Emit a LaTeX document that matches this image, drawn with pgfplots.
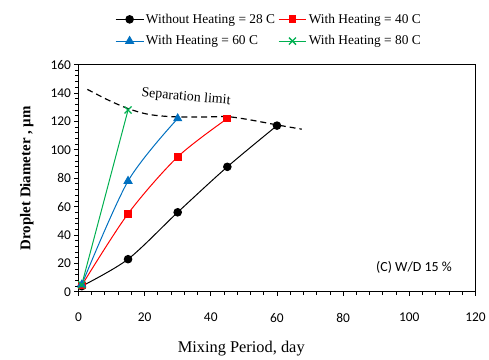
\documentclass[border=0pt]{standalone}
\usepackage{pgfplots}
\pgfplotsset{compat=1.18}
\usepackage{fontspec}
\setmainfont{Liberation Serif}
\newfontfamily\calibri{Carlito}
\definecolor{myred}{RGB}{255,0,0}
\definecolor{myblue}{RGB}{0,112,192}
\definecolor{mygreen}{RGB}{0,176,80}
\begin{document}
\begin{tikzpicture}
\begin{axis}[
  scale only axis, width=400pt, height=229pt,
  xmin=0, xmax=120, ymin=0, ymax=160,
  xtick={0,20,...,120}, ytick={0,20,...,160},
  minor x tick num=4, minor y tick num=4,
  tick align=outside, tick pos=left,
  major tick length=4pt, minor tick length=3pt,
  axis line style={line width=1pt},
  every tick/.style={black, line width=0.8pt},
  tick label style={font=\fontsize{13.5}{15}\selectfont\calibri},
  xticklabel style={yshift=-14pt},
  /pgf/number format/assume math mode=true,
  xlabel={Mixing Period, day},
  xlabel style={font=\fontsize{16.5}{18}\selectfont\rmfamily, at={(axis description cs:0.41,0)}, anchor=center, yshift=-57pt},
  ylabel={\textbf{Droplet Diameter , \textmu m}},
  ylabel style={font=\fontsize{15}{17}\selectfont\rmfamily, at={(axis description cs:-0.13,0.5)}, anchor=center},
  legend columns=2,
  legend style={draw=none, fill=none, at={(axis description cs:0.48,1)}, anchor=south, yshift=14pt,
    font=\fontsize{13.5}{15}\selectfont\rmfamily, row sep=7pt,
    /tikz/every even column/.append style={column sep=1pt}},
  legend cell align=left,
  legend image code/.code={\draw[#1] (0pt,0pt) -- (28pt,0pt); \draw[#1] plot coordinates {(14pt,0pt)};},
]
\addplot[black, line width=1pt, smooth, mark=*, mark size=3.8pt, mark options={solid}] coordinates {(1,4) (15,23) (30,56) (45,88) (60,117)};
\addlegendentry{Without Heating = 28 C}
\addplot[myred, line width=1pt, smooth, mark=square*, mark size=3.4pt] coordinates {(1,4.5) (15,55) (30,95) (45,122)};
\addlegendentry{With Heating = 40 C}
\addplot[myblue, line width=1pt, smooth, mark=triangle*, mark size=4.5pt] coordinates {(1,5) (15,78) (30,122)};
\addlegendentry{With Heating = 60 C}
\addplot[mygreen, line width=1pt, mark=x, mark size=5pt, mark options={line width=1.3pt}] coordinates {(1,5) (15,128)};
\addlegendentry{With Heating = 80 C}
\addplot[black, line width=1.2pt, dashed, dash pattern=on 6pt off 4pt, smooth, forget plot] coordinates {(2.7,142.5) (9,135) (15,129) (21,125) (28,123.3) (37,123) (45,123.3) (52,121) (60,117.5) (67.5,114.5)};
\node[font=\fontsize{14}{16}\selectfont\rmfamily, rotate=-5] at (axis cs:32.5,137) {Separation limit};
\node[font=\fontsize{14}{16}\selectfont\calibri] at (axis cs:101.4,17.5) {(C) W/D 15 \%};
\end{axis}
\path (current axis.south west) ++(-79pt,-61pt) rectangle ++(489pt,355pt);
\end{tikzpicture}
\end{document}
